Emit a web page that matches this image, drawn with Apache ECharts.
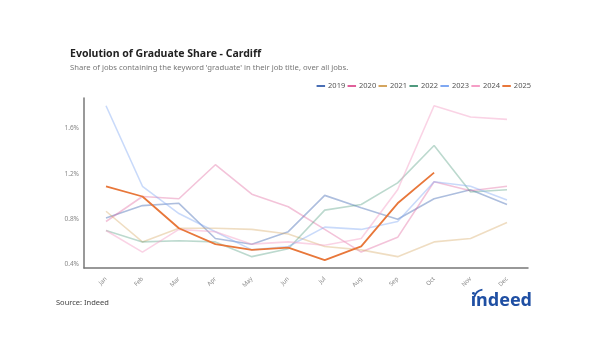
<!DOCTYPE html>
<html><head><meta charset="utf-8">
<script src="https://cdn.jsdelivr.net/npm/echarts@6/dist/echarts.min.js"></script>
<style>html,body{margin:0;padding:0;background:#fff}#c{width:600px;height:360px}</style>
</head><body><div id="c"></div>
<script>
const months = ['Jan','Feb','Mar','Apr','May','Jun','Jul','Aug','Sep','Oct','Nov','Dec'];
const yTicks = [0.4, 0.8, 1.2, 1.6];
const s2019 = [0.81, 0.92, 0.94, 0.63, 0.58, 0.69, 1.01, 0.90, 0.80, 0.98, 1.06, 0.93];
const s2020 = [0.78, 1.00, 0.98, 1.28, 1.02, 0.91, 0.71, 0.51, 0.64, 1.13, 1.05, 1.09];
const s2021 = [0.87, 0.60, 0.72, 0.72, 0.71, 0.67, 0.56, 0.53, 0.47, 0.60, 0.63, 0.77];
const s2022 = [0.70, 0.60, 0.61, 0.60, 0.47, 0.54, 0.88, 0.93, 1.12, 1.45, 1.04, 1.06];
const s2023 = [1.80, 1.09, 0.85, 0.69, 0.53, 0.56, 0.73, 0.71, 0.78, 1.13, 1.09, 0.97];
const s2024 = [0.70, 0.51, 0.71, 0.69, 0.58, 0.60, 0.57, 0.63, 1.06, 1.80, 1.70, 1.68];
const s2025 = [1.09, 1.00, 0.72, 0.58, 0.53, 0.55, 0.44, 0.56, 0.94, 1.21];

const seriesDefs = [
  {name:'2019', data:s2019, color:'#4a6fb5', line:'rgba(74,111,181,0.45)'},
  {name:'2020', data:s2020, color:'#e0609a', line:'rgba(224,96,154,0.38)'},
  {name:'2021', data:s2021, color:'#d4a55e', line:'rgba(212,165,94,0.38)'},
  {name:'2022', data:s2022, color:'#4f9a7e', line:'rgba(79,154,126,0.38)'},
  {name:'2023', data:s2023, color:'#7fa8f2', line:'rgba(127,168,242,0.42)'},
  {name:'2024', data:s2024, color:'#f59ec6', line:'rgba(245,158,198,0.45)'},
  {name:'2025', data:s2025, color:'#e8773a', line:'#e8773a'}
];

const chart = echarts.init(document.getElementById('c'), null, {renderer:'canvas'});
const FONT = 'Noto Sans';
chart.setOption({
  animation:false,
  backgroundColor:'#fff',
  textStyle:{fontFamily:FONT},
  title:[
    {text:'Evolution of Graduate Share - Cardiff', left:65, top:44,
     textStyle:{fontSize:10.5, fontWeight:'bold', color:'#222', fontFamily:FONT}},
    {text:"Share of jobs containing the keyword 'graduate' in their job title, over all jobs.", left:65, top:58.5,
     textStyle:{fontSize:7.7, fontWeight:'normal', color:'#777', fontFamily:FONT}},
    {text:'Source: Indeed', left:51, top:294,
     textStyle:{fontSize:7.5, fontWeight:'normal', color:'#444', fontFamily:FONT}}
  ],
  legend:{
    right:64, top:77, icon:'rect', itemWidth:8.5, itemHeight:2, itemGap:2.3,
    textStyle:{fontSize:7.5, color:'#555', fontFamily:FONT, padding:[0,0,0,-2]},
    data: seriesDefs.map(d=>({name:d.name, itemStyle:{color:d.color, opacity:1}}))
  },
  grid:[
    {left:84, right:72, top:98, bottom:92},
    {left:106, right:93, top:98, bottom:92}
  ],
  xAxis:[
    {gridIndex:0, type:'value', min:0, max:1, axisLine:{show:true, lineStyle:{color:'#777', width:1.5}},
     axisTick:{show:false}, axisLabel:{show:false}, splitLine:{show:false}},
    {gridIndex:1, type:'category', data:months, boundaryGap:false,
     axisLine:{show:false}, axisTick:{show:false}, splitLine:{show:false},
     axisLabel:{rotate:45, fontSize:6, color:'#888', margin:10, interval:0, fontFamily:FONT}}
  ],
  yAxis:[
    {gridIndex:0, type:'value', min:0, max:1, show:false},
    {gridIndex:1, type:'value', min:0.37, max:1.868, offset:22,
     axisLine:{show:true, lineStyle:{color:'#777', width:1.5}},
     axisTick:{show:false}, splitLine:{show:false},
     axisLabel:{customValues:yTicks, fontSize:6.5, color:'#888', margin:5, fontFamily:FONT,
       formatter:v=>v.toFixed(1)+'%'}}
  ],
  series: seriesDefs.map((d,i)=>({
    name:d.name, type:'line', xAxisIndex:1, yAxisIndex:1, data:d.data,
    showSymbol:false, symbol:'none', color:d.color, z: i===6?10:2,
    lineStyle:{color:d.line, width:d.name==='2025'?1.8:1.6},
    itemStyle:{color:d.color}
  })),
  graphic:[
    {type:'text', x:532, y:292, style:{text:'indeed', fontSize:18, fontWeight:'bold',
      fill:'#1f4fa3', fontFamily:FONT, align:'right', verticalAlign:'top'}},
    {type:'arc', shape:{cx:484, cy:299.5, r:10, startAngle:Math.PI*1.08, endAngle:Math.PI*1.45},
      style:{stroke:'#1f4fa3', lineWidth:1.8, fill:null}}
  ]
});
</script></body></html>
